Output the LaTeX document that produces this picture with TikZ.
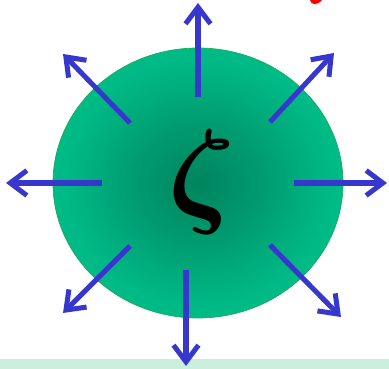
\documentclass[tikz,border=0pt]{standalone}
\usepackage{amsmath,bm,graphicx}
\usepackage{tikz}
\usetikzlibrary{arrows.meta, calc, shapes.geometric}
\definecolor{ArrowBlue}{RGB}{55,55,205}
\definecolor{RimGreen}{RGB}{30,170,90}
\definecolor{BarGreen}{RGB}{204,238,221}
\pgfdeclareradialshading{coreglow}{\pgfpoint{0bp}{0bp}}{rgb(0bp)=(0,0.52,0.37); rgb(10bp)=(0,0.60,0.43); rgb(22bp)=(0,0.72,0.52); rgb(32bp)=(0,0.77,0.55); rgb(50bp)=(0,0.78,0.56)}

\begin{document}
\begin{tikzpicture}[x=0.03cm, y=0.03cm,
  ray/.style = {draw=ArrowBlue, line width=4.3pt, -{Straight Barb[length=5mm, width=7.5mm]}} ]

\useasboundingbox (0,0) rectangle (389,369);

%--- strip at the bottom ---
\fill[BarGreen] (0,0) rectangle (389,10);

%--- red fragment at the top ---
\fill[red] (310,369) .. controls (311,364) and (317,363) .. (322,369) -- cycle;

% core
\node[ellipse, draw=RimGreen, line width=0.6pt, minimum width=8.7cm, minimum height=8.1cm, inner sep=0pt, shading=coreglow] (core) at (198,186) {};
\node (zeta) at (202,187) {\scalebox{10}{$\bm{\zeta}$}};

%--- ray ends ---
\coordinate (nS) at (198,272);  \coordinate (nE) at (198,366);
\coordinate (neS) at (270,247); \coordinate (neE) at (334,316);
\coordinate (eS) at (294,186);  \coordinate (eE) at (387,186);
\coordinate (seS) at (270,124); \coordinate (seE) at (341,52);
\coordinate (sS) at (186,99);   \coordinate (sE) at (186,3);
\coordinate (swS) at (130,123); \coordinate (swE) at (63,56);
\coordinate (wS) at (102,186);  \coordinate (wE) at (6,186);
\coordinate (nwS) at (130,246); \coordinate (nwE) at (63,315);

%--- rays ---
\draw[ray] (nS) -- (nE);
\draw[ray] (neS) -- (neE);
\draw[ray] (eS) -- (eE);
\draw[ray] (seS) -- (seE);
\draw[ray] (sS) -- (sE);
\draw[ray] (swS) -- (swE);
\draw[ray] (wS) -- (wE);
\draw[ray] (nwS) -- (nwE);

\end{tikzpicture}
\end{document}
